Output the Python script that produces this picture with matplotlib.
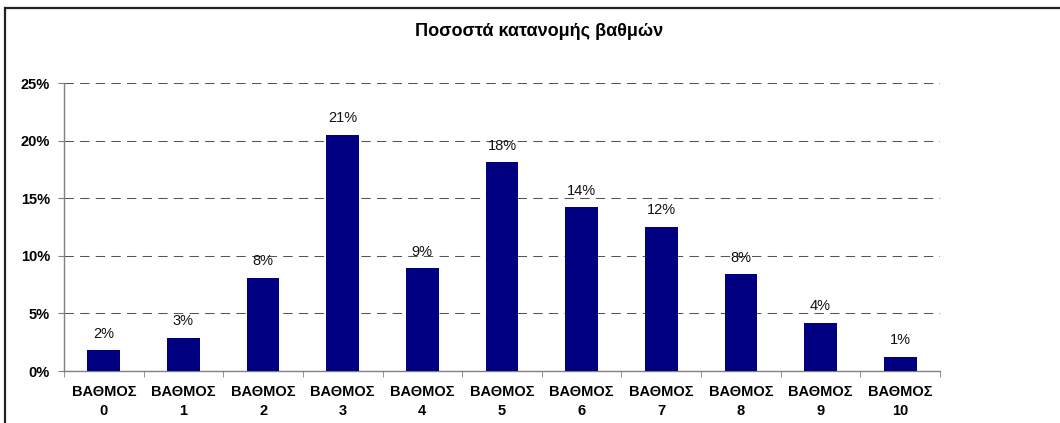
import matplotlib
matplotlib.use("Agg")
import matplotlib.pyplot as plt
from matplotlib.patches import Rectangle
from matplotlib.ticker import FixedLocator, PercentFormatter

plt.rcParams['font.family'] = ['Liberation Sans', 'DejaVu Sans']

title = 'Ποσοστά κατανομής βαθμών'
grades = ['0', '1', '2', '3', '4', '5', '6', '7', '8', '9', '10']
shares = [1.8, 2.9, 8.1, 20.5, 8.9, 18.1, 14.2, 12.5, 8.4, 4.2, 1.2]
labels = ['2%', '3%', '8%', '21%', '9%', '18%', '14%', '12%', '8%', '4%', '1%']
yticks = [0, 5, 10, 15, 20, 25]

fig = plt.figure(figsize=(10.6, 4.23), dpi=100)
ax = fig.add_axes([64 / 1060, 52 / 423, 876 / 1060, 288 / 423])

# outer chart frame (only top and left edges fall inside the picture)
fig.patches.append(Rectangle((5 / 1060, -0.1), 1.2, (423 - 8) / 423 + 0.1,
                             transform=fig.transFigure, fill=False,
                             edgecolor='#222222', linewidth=1.6))

x = list(range(len(grades)))
ax.bar(x, shares, width=0.41, color='#000080', zorder=3)

for xi, v, lab in zip(x, shares, labels):
    ax.annotate(lab, (xi, v), xytext=(0, 7), textcoords='offset points',
                ha='center', va='bottom', fontsize=10.5, color='#111111')

ax.set_xlim(-0.5, len(grades) - 0.5)
ax.set_ylim(0, 25)
ax.set_yticks(yticks)
ax.yaxis.set_major_formatter(PercentFormatter(decimals=0))
ax.set_xticks(x)
ax.set_xticklabels(['ΒΑΘΜΟΣ\n' + g for g in grades], fontweight='bold',
                   fontsize=10.5, linespacing=1.45)
ax.xaxis.set_minor_locator(FixedLocator([i - 0.5 for i in range(len(grades) + 1)]))
ax.tick_params(axis='x', which='major', length=0, pad=10)
ax.tick_params(axis='x', which='minor', length=4, color='#808080', direction='out')
ax.tick_params(axis='y', length=4, color='#808080', pad=6, labelsize=10.5)
for t in ax.get_yticklabels():
    t.set_fontweight('bold')

ax.grid(axis='y', color='#555555', linestyle=(0, (9, 6)), linewidth=0.75, zorder=0)
for s in ['top', 'right']:
    ax.spines[s].set_visible(False)
for s in ['left', 'bottom']:
    ax.spines[s].set_color('#808080')
    ax.spines[s].set_linewidth(1.0)

fig.text(539 / 1060, 1 - 31 / 423, title, ha='center', va='center',
         fontweight='bold', fontsize=13)

fig.savefig('out.png', dpi=100)
